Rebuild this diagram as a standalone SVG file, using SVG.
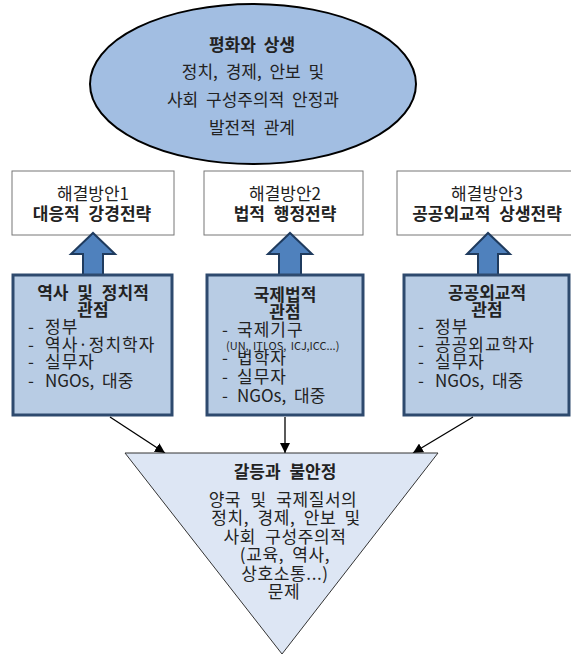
<svg xmlns="http://www.w3.org/2000/svg" width="571" height="656" viewBox="0 0 571 656">
<style>
text{font-family:"Malgun Gothic","Noto Sans CJK KR","Noto Sans",sans-serif;font-size:17px;fill:#222;}
.c{text-anchor:middle;}
.b{font-weight:bold;}
.s{font-size:11px;}
.li{letter-spacing:1px;}
.tri{letter-spacing:0.6px;}
.pbox{fill:#b8cce4;stroke:#2e4a6e;stroke-width:3;}
.sbox{fill:#fff;stroke:#777;stroke-width:1;}
.up{fill:#4f81bd;stroke:#1f3b5e;stroke-width:2;stroke-linejoin:miter;}
.con{stroke:#000;stroke-width:1.3;fill:none;marker-end:url(#ah);}
</style>
<defs>
<marker id="ah" viewBox="0 0 10 10" refX="10" refY="5" markerWidth="10" markerHeight="10" markerUnits="userSpaceOnUse" orient="auto">
<path d="M0,0 L10,5 L0,10 z" fill="#000"/>
</marker>
</defs>
<rect width="571" height="656" fill="#fff"/>

<g id="goal">
<ellipse cx="253" cy="84" rx="163" ry="80" fill="#a2bee2" stroke="#000" stroke-width="2"/>
<text class="c b" x="252" y="51" word-spacing="4">평화와 상생</text>
<text class="c" x="253" y="78" word-spacing="4">정치, 경제, 안보 및</text>
<text class="c" x="253" y="106" word-spacing="4">사회 구성주의적 안정과</text>
<text class="c" x="252" y="134" word-spacing="4">발전적 관계</text>
</g>

<g id="sol1">
<rect class="sbox" x="12" y="171" width="162" height="64"/>
<text class="c" x="93" y="200">해결방안1</text>
<text class="c b" x="92" y="220" word-spacing="5">대응적 강경전략</text>
</g>
<g id="sol2">
<rect class="sbox" x="204" y="171" width="159" height="64"/>
<text class="c" x="285" y="200">해결방안2</text>
<text class="c b" x="285" y="220" word-spacing="5">법적 행정전략</text>
</g>
<g id="sol3">
<rect class="sbox" x="397" y="171" width="180" height="64"/>
<text class="c" x="487" y="200">해결방안3</text>
<text class="c b" x="487" y="220" word-spacing="5">공공외교적 상생전략</text>
</g>

<g id="arrows-up">
<path class="up" d="M83,276 L83,254 L71,254 L93,233 L115,254 L103,254 L103,276 z"/>
<path class="up" d="M279,276 L279,254 L268,254 L290,233 L312,254 L301,254 L301,276 z"/>
<path class="up" d="M478,276 L478,254 L467,254 L488,233 L510,254 L498,254 L498,276 z"/>
</g>

<g id="persp1">
<rect class="pbox" x="13" y="275" width="159" height="140"/>
<text class="c b" x="93" y="299" word-spacing="5">역사 및 정치적</text>
<text class="c b" x="93" y="316">관점</text>
<text x="28" y="333">-</text><text class="li" x="45" y="333">정부</text>
<text x="28" y="351">-</text><text class="li" x="45" y="351">역사·정치학자</text>
<text x="28" y="368">-</text><text class="li" x="45" y="368">실무자</text>
<text x="28" y="387">-</text><text x="45" y="387" word-spacing="4">NGOs, 대중</text>
</g>

<g id="persp2">
<rect class="pbox" x="207" y="275" width="156" height="140"/>
<text class="c b" x="285" y="301">국제법적</text>
<text class="c b" x="285" y="318">관점</text>
<text x="222" y="336">-</text><text class="li" x="237" y="336">국제기구</text>
<text class="s" x="226" y="350" word-spacing="2">(UN, ITLOS, ICJ,ICC...)</text>
<text x="222" y="364">-</text><text class="li" x="237" y="364">법학자</text>
<text x="222" y="383">-</text><text class="li" x="237" y="383">실무자</text>
<text x="222" y="402">-</text><text x="237" y="402" word-spacing="4">NGOs, 대중</text>
</g>

<g id="persp3">
<rect class="pbox" x="404" y="275" width="165" height="140"/>
<text class="c b" x="487" y="299">공공외교적</text>
<text class="c b" x="487" y="316">관점</text>
<text x="418" y="333">-</text><text class="li" x="435" y="333">정부</text>
<text x="418" y="351">-</text><text class="li" x="435" y="351">공공외교학자</text>
<text x="418" y="368">-</text><text class="li" x="435" y="368">실무자</text>
<text x="418" y="387">-</text><text x="435" y="387" word-spacing="4">NGOs, 대중</text>
</g>

<g id="connectors">
<line class="con" x1="110" y1="417" x2="165" y2="453"/>
<line class="con" x1="285" y1="417" x2="285" y2="453"/>
<line class="con" x1="473" y1="417" x2="413" y2="453"/>
</g>

<g id="problem">
<path d="M125,453 L438,453 L282,654 z" fill="#dde6f4" stroke="#333" stroke-width="1"/>
<text class="c b" x="285" y="478" word-spacing="5">갈등과 불안정</text>
<text class="c tri" x="283" y="506" word-spacing="5">양국 및 국제질서의</text>
<text class="c tri" x="286" y="524" word-spacing="4">정치, 경제, 안보 및</text>
<text class="c tri" x="285" y="543" word-spacing="5">사회 구성주의적</text>
<text class="c tri" x="285" y="561" word-spacing="4">(교육, 역사,</text>
<text class="c tri" x="285" y="580">상호소통...)</text>
<text class="c tri" x="284" y="598">문제</text>
</g>
</svg>
